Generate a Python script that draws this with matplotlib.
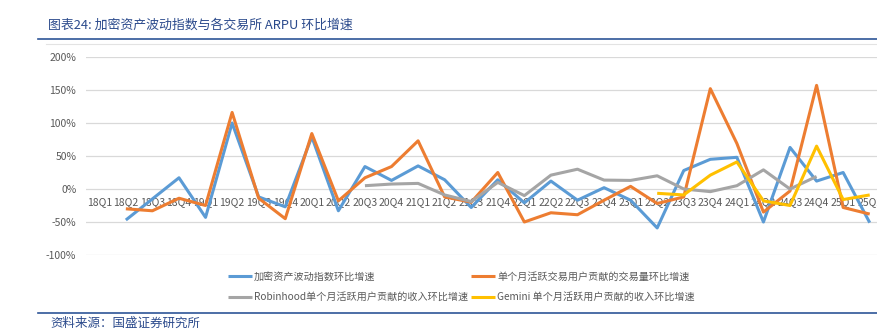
import numpy as np
import matplotlib
matplotlib.use('Agg')
import matplotlib.pyplot as plt
from matplotlib.lines import Line2D
from matplotlib.ticker import FuncFormatter

plt.rcParams['font.family'] = ['Noto Sans CJK SC', 'DejaVu Sans']

nan = np.nan

quarters = ['18Q1', '18Q2', '18Q3', '18Q4', '19Q1', '19Q2', '19Q3', '19Q4',
            '20Q1', '20Q2', '20Q3', '20Q4', '21Q1', '21Q2', '21Q3', '21Q4',
            '22Q1', '22Q2', '22Q3', '22Q4', '23Q1', '23Q2', '23Q3', '23Q4',
            '24Q1', '24Q2', '24Q3', '24Q4', '25Q1', '25Q2']

# QoQ growth, %
volatility_index = [nan, -47, -15, 17, -43, 100, -12, -27, 79, -33, 34, 13, 35, 14, -28,
                    14, -21, 12, -17, 2, -17, -59, 28, 45, 48, -50, 63, 12, 25, -51]
volume_per_mtu = [nan, -30, -33, -14, -25, 116, -14, -45, 84, -18, 17, 34, 73, -12, -20,
                  25, -50, -36, -39, -17, 4, -22, -12, 152, 69, -35, -3, 157, -28, -38]
robinhood_arpu = [nan, nan, nan, nan, nan, nan, nan, nan, nan, nan, 5, 7.5, 8.5, -9, -19,
                  10, -10, 21, 30, 13.5, 13, 20, 0, -4, 5, 29, 0, 19, nan, nan]
gemini_arpu = [nan, nan, nan, nan, nan, nan, nan, nan, nan, nan, nan, nan, nan, nan, nan,
               nan, nan, nan, nan, nan, nan, -6.5, -9, 21, 41, -18, -25, 65, -16, -9]

labels = ['加密资产波动指数环比增速',
          '单个月活跃交易用户贡献的交易量环比增速',
          'Robinhood单个月活跃用户贡献的收入环比增速',
          'Gemini 单个月活跃用户贡献的收入环比增速']
colors = ['#5B9BD5', '#ED7D31', '#A5A5A5', '#FFC000']

W, H = 878, 335
fig = plt.figure(figsize=(W / 100, H / 100), dpi=100)

ax = fig.add_axes([86 / W, 80 / H, 797 / W, 198 / H])
x = np.arange(len(quarters))
handles = []
for vals, col in zip([volatility_index, volume_per_mtu, robinhood_arpu, gemini_arpu], colors):
    h, = ax.plot(x, vals, color=col, lw=2.2, solid_joinstyle='round',
                 solid_capstyle='butt', zorder=3)
    handles.append(h)

ax.set_xlim(-0.5, len(quarters) - 0.5)
ax.set_ylim(-100, 200)
ax.set_yticks(np.arange(-100, 201, 50))
ax.yaxis.set_major_formatter(FuncFormatter(lambda v, p: f'{v:.0f}%'))
ax.set_xticks(x)
ax.set_xticklabels(quarters)
ax.grid(axis='y', color='#D9D9D9', lw=0.9, zorder=0)
ax.set_axisbelow(True)
for s in ax.spines.values():
    s.set_visible(False)
ax.spines['bottom'].set_position(('data', 0))
ax.tick_params(axis='both', length=0, labelsize=7.5, colors='#595959')
ax.tick_params(axis='y', pad=7)
ax.tick_params(axis='x', pad=5.5)

# legend in two columns
legend_kw = dict(loc='upper left', frameon=False, fontsize=7.25, handlelength=2.4,
                 handletextpad=0.2, borderpad=0, borderaxespad=0, labelspacing=1.0,
                 labelcolor='#595959')
fig.legend([handles[0], handles[2]], [labels[0], labels[2]],
           bbox_to_anchor=(228 / W, 1 - 272 / H), **legend_kw)
fig.legend([handles[1], handles[3]], [labels[1], labels[3]],
           bbox_to_anchor=(471 / W, 1 - 272 / H), **legend_kw)

# header and footer
fig.text(48 / W, 1 - 25 / H, '图表24: 加密资产波动指数与各交易所 ARPU 环比增速',
         fontsize=9.3, color='#2B4A8C', style='italic', va='center', ha='left')
fig.add_artist(Line2D([38 / W, 1], [1 - 39 / H, 1 - 39 / H], transform=fig.transFigure,
                      color='#2E5597', lw=1.2))
fig.add_artist(Line2D([46 / W, 1], [1 - 44 / H, 1 - 44 / H], transform=fig.transFigure,
                      color='#E3E3E3', lw=0.8))
fig.add_artist(Line2D([38 / W, 1], [1 - 313 / H, 1 - 313 / H], transform=fig.transFigure,
                      color='#2E5597', lw=1.2))
fig.text(50 / W, 1 - 323 / H, '资料来源：国盛证券研究所',
         fontsize=9, color='#2B4A8C', style='italic', va='center', ha='left')

fig.savefig('out.png', dpi=100)
